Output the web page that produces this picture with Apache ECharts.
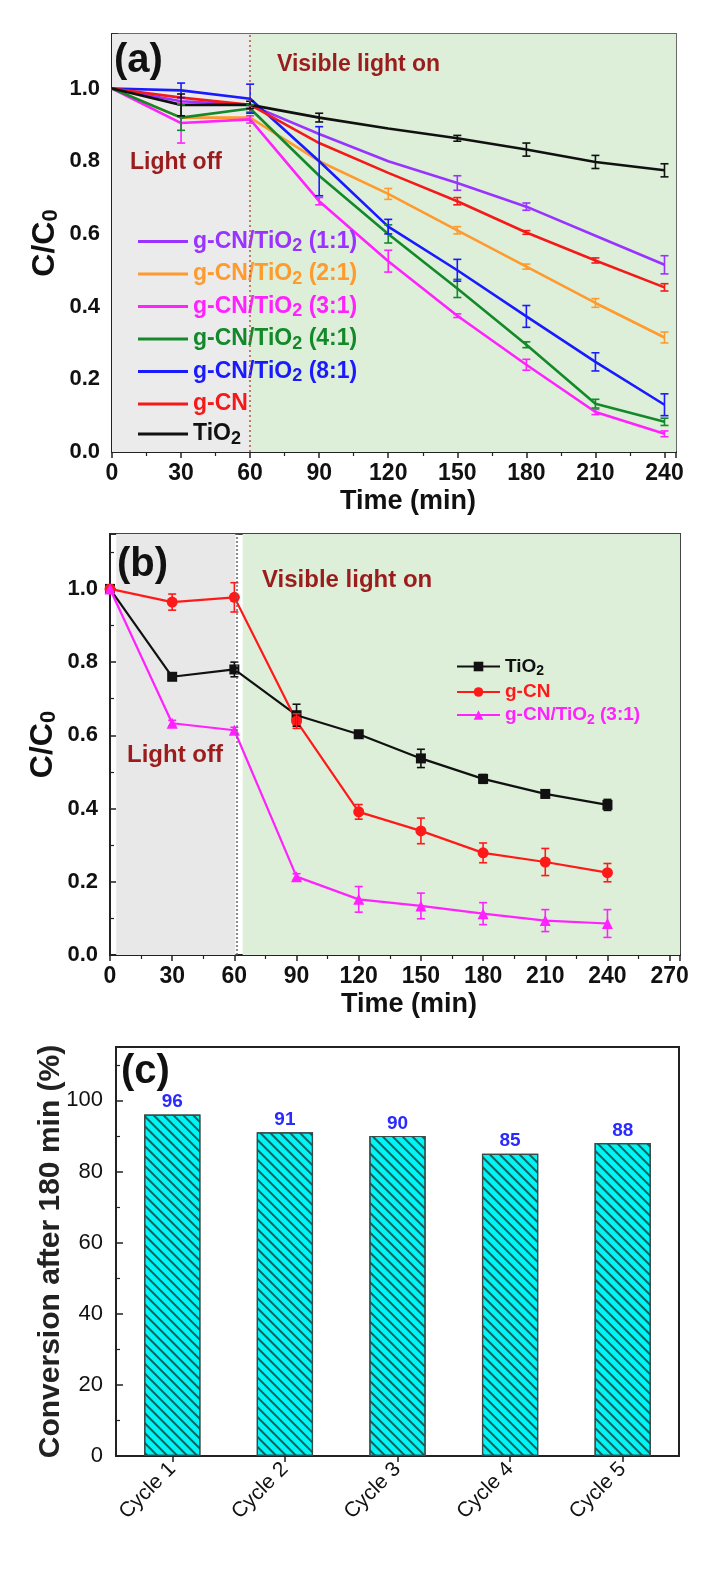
<!DOCTYPE html>
<html><head><meta charset="utf-8">
<script src="https://cdn.jsdelivr.net/npm/echarts@6/dist/echarts.min.js"></script>
<style>html,body{margin:0;padding:0;background:#fff}#c{width:712px;height:1584px}</style>
</head><body><div id="c"></div>
<script>
// ---------- DATA ----------
const timeA = [0, 30, 60, 90, 120, 150, 180, 210, 240];
const a_CT11 = [1.0, 0.965, 0.955, 0.875, 0.800, 0.740, 0.675, 0.595, 0.515];
const a_CT21 = [1.0, 0.920, 0.920, 0.800, 0.710, 0.610, 0.510, 0.410, 0.315];
const a_CT31 = [1.0, 0.905, 0.915, 0.690, 0.525, 0.375, 0.240, 0.110, 0.050];
const a_CT41 = [1.0, 0.920, 0.945, 0.760, 0.600, 0.450, 0.295, 0.133, 0.083];
const a_CT81 = [1.0, 0.995, 0.972, 0.800, 0.620, 0.500, 0.373, 0.248, 0.130];
const a_gCN  = [1.0, 0.975, 0.955, 0.850, 0.768, 0.690, 0.604, 0.527, 0.453];
const a_TiO2 = [1.0, 0.955, 0.955, 0.920, 0.890, 0.863, 0.832, 0.798, 0.775];
const ea_CT11 = [0, 0, 0, 0, 0, 0.020, 0.010, 0, 0.025];
const ea_CT21 = [0, 0, 0, 0, 0.015, 0.010, 0.007, 0.012, 0.015];
const ea_CT31 = [0, 0.055, 0.010, 0.010, 0.030, 0.005, 0.015, 0.007, 0.008];
const ea_CT41 = [0, 0.035, 0.010, 0, 0.025, 0.025, 0.008, 0.012, 0.010];
const ea_CT81 = [0, 0.020, 0.040, 0.095, 0.020, 0.030, 0.030, 0.025, 0.030];
const ea_gCN  = [0, 0, 0, 0, 0, 0.010, 0.005, 0.007, 0.010];
const ea_TiO2 = [0, 0.030, 0.010, 0.012, 0, 0.008, 0.018, 0.018, 0.018];

const timeB = [0, 30, 60, 90, 120, 150, 180, 210, 240];
const b_TiO2 = [1.0, 0.760, 0.780, 0.655, 0.603, 0.537, 0.481, 0.440, 0.410];
const b_gCN  = [1.0, 0.964, 0.977, 0.639, 0.391, 0.339, 0.279, 0.254, 0.225];
const b_CT31 = [1.0, 0.633, 0.614, 0.214, 0.152, 0.134, 0.113, 0.094, 0.086];
const eb_TiO2 = [0, 0.008, 0.020, 0.030, 0.008, 0.025, 0.012, 0.010, 0.015];
const eb_gCN  = [0, 0.022, 0.040, 0.020, 0.020, 0.035, 0.027, 0.037, 0.025];
const eb_CT31 = [0, 0.008, 0.008, 0.008, 0.035, 0.035, 0.030, 0.030, 0.038];

const cycles = ['Cycle 1', 'Cycle 2', 'Cycle 3', 'Cycle 4', 'Cycle 5'];
const conversion = [96, 91, 90, 85, 88];

// ---------- STYLE ----------
const FF = "'Liberation Sans', Arial, sans-serif";
const DARKRED = '#9a1c1c';

const seriesA = [
  {name: 'g-CN/TiO2 (1:1)', v: a_CT11, e: ea_CT11, color: '#9933ff'},
  {name: 'g-CN/TiO2 (2:1)', v: a_CT21, e: ea_CT21, color: '#ff9a2e'},
  {name: 'g-CN/TiO2 (3:1)', v: a_CT31, e: ea_CT31, color: '#ff22ff'},
  {name: 'g-CN/TiO2 (4:1)', v: a_CT41, e: ea_CT41, color: '#13892a'},
  {name: 'g-CN/TiO2 (8:1)', v: a_CT81, e: ea_CT81, color: '#1a1aff'},
  {name: 'g-CN', v: a_gCN, e: ea_gCN, color: '#f51a1a'},
  {name: 'TiO2', v: a_TiO2, e: ea_TiO2, color: '#111111'}
];
const seriesB = [
  {name: 'b: TiO2', v: b_TiO2, e: eb_TiO2, color: '#111111', symbol: 'rect', size: 10},
  {name: 'b: g-CN', v: b_gCN, e: eb_gCN, color: '#ff1a1a', symbol: 'circle', size: 11},
  {name: 'b: g-CN/TiO2 (3:1)', v: b_CT31, e: eb_CT31, color: '#ff22ff', symbol: 'triangle', size: 11}
];

function errRender(params, api) {
  const x = api.value(0), y = api.value(1), e = api.value(2);
  const hi = api.coord([x, y + e]), lo = api.coord([x, y - e]);
  const w = 4, c = api.visual('color');
  const st = {stroke: c, lineWidth: 1.6};
  return {type: 'group', children: [
    {type: 'line', shape: {x1: hi[0], y1: hi[1], x2: lo[0], y2: lo[1]}, style: st},
    {type: 'line', shape: {x1: hi[0] - w, y1: hi[1], x2: hi[0] + w, y2: hi[1]}, style: st},
    {type: 'line', shape: {x1: lo[0] - w, y1: lo[1], x2: lo[0] + w, y2: lo[1]}, style: st}
  ]};
}

const series = [];
// panel a background
series.push({
  type: 'line', xAxisIndex: 0, yAxisIndex: 0, data: [], z: 0, silent: true,
  markArea: {silent: true, data: [
    [{xAxis: 0, itemStyle: {color: '#ebebeb'}}, {xAxis: 60}],
    [{xAxis: 60, itemStyle: {color: '#ddefd9'}}, {xAxis: 245}]
  ]},
  markLine: {silent: true, symbol: 'none', label: {show: false},
    lineStyle: {color: '#b5524a', type: [2, 3], width: 1.5}, data: [{xAxis: 60}]}
});
seriesA.forEach(s => {
  series.push({name: s.name, type: 'line', xAxisIndex: 0, yAxisIndex: 0, z: 3,
    data: timeA.map((t, i) => [t, s.v[i]]), symbol: 'none',
    lineStyle: {color: s.color, width: 2.6}, itemStyle: {color: s.color}});
  series.push({name: s.name, type: 'custom', xAxisIndex: 0, yAxisIndex: 0, z: 4,
    itemStyle: {color: s.color}, renderItem: errRender,
    data: timeA.map((t, i) => [t, s.v[i], s.e[i]]).filter(d => d[2] > 0)});
});
// panel b background
series.push({
  type: 'line', xAxisIndex: 1, yAxisIndex: 1, data: [], z: 0, silent: true,
  markArea: {silent: true, data: [
    [{xAxis: 3, itemStyle: {color: '#e8e8e8'}}, {xAxis: 60.5}],
    [{xAxis: 64, itemStyle: {color: '#ddefd9'}}, {xAxis: 275}]
  ]},
  markLine: {silent: true, symbol: 'none', label: {show: false},
    lineStyle: {color: '#666', type: [2, 2], width: 1.5}, data: [{xAxis: 61}]}
});
seriesB.forEach(s => {
  series.push({name: s.name, type: 'line', xAxisIndex: 1, yAxisIndex: 1, z: 3,
    data: timeB.map((t, i) => [t, s.v[i]]), symbol: s.symbol, symbolSize: s.size,
    lineStyle: {color: s.color, width: 2.2}, itemStyle: {color: s.color}});
  series.push({name: s.name, type: 'custom', xAxisIndex: 1, yAxisIndex: 1, z: 4,
    itemStyle: {color: s.color}, renderItem: errRender,
    data: timeB.map((t, i) => [t, s.v[i], s.e[i]]).filter(d => d[2] > 0)});
});
// panel c
series.push({
  name: 'Conversion', type: 'bar', xAxisIndex: 2, yAxisIndex: 2, data: conversion, barWidth: '50%',
  itemStyle: {color: '#00f5f5', borderColor: '#3a4a4a', borderWidth: 1.2,
    decal: {symbol: 'rect', symbolSize: 1, color: 'rgba(20,70,70,0.85)', dashArrayX: [1, 0], dashArrayY: [1.6, 4.2], rotation: Math.PI / 4}},
  label: {show: true, position: 'top', distance: 3, color: '#2a2aff', fontWeight: 'bold', fontSize: 19, fontFamily: FF}
});

// legends
const legendRich = {};
const allL = seriesA.concat(seriesB);
const idx = {};
allL.forEach((s, i) => {
  idx[s.name] = i;
  const big = s.name.startsWith('b: ') ? 19 : 23;
  legendRich['k' + i] = {color: s.color, fontSize: big, fontWeight: 'bold', fontFamily: FF};
  legendRich['k' + i + 's'] = {color: s.color, fontSize: big - 5, fontWeight: 'bold', fontFamily: FF, padding: [10, 0, 0, 0]};
});
function legendFmt(name) {
  const k = 'k' + idx[name];
  const clean = name.replace(/^b: /, '');
  if (clean.indexOf('TiO2') >= 0) {
    const parts = clean.split('TiO2');
    let s = (parts[0] ? '{' + k + '|' + parts[0] + 'TiO}' : '{' + k + '|TiO}') + '{' + k + 's|2}';
    if (parts[1]) s += '{' + k + '|' + parts[1] + '}';
    return s;
  }
  return '{' + k + '|' + clean + '}';
}

function valAxisY(gi, extra) {
  return Object.assign({
    type: 'value', gridIndex: gi, min: 0, max: 1.15, interval: 0.2,
    axisLine: {show: true, onZero: false, lineStyle: {color: '#222', width: 2}},
    axisTick: {show: true, inside: true, length: 6, lineStyle: {color: '#222', width: 1.5}},
    minorTick: {show: true, splitNumber: 2, length: 4, lineStyle: {color: '#222', width: 1.2}},
    splitLine: {show: false},
    axisLabel: {fontSize: 22, fontWeight: 'bold', color: '#111', fontFamily: FF, margin: 12,
      formatter: v => (v > 1.05 ? '' : v.toFixed(1))},
    name: '{a|C/C}{b|0}', nameLocation: 'middle', nameRotate: 90, nameGap: 50, nameMoveOverlap: false,
    nameTextStyle: {rich: {
      a: {fontSize: 32, fontWeight: 'bold', color: '#111', fontFamily: FF},
      b: {fontSize: 22, fontWeight: 'bold', color: '#111', fontFamily: FF, padding: [12, 0, 0, 0]}
    }}
  }, extra || {});
}
function valAxisX(gi, max, extra) {
  return Object.assign({
    type: 'value', gridIndex: gi, min: 0, max: max, interval: 30,
    axisLine: {show: true, onZero: false, lineStyle: {color: '#222', width: 2}},
    axisTick: {show: true, inside: false, length: 6, lineStyle: {color: '#222', width: 1.5}},
    minorTick: {show: true, splitNumber: 2, length: 4, lineStyle: {color: '#222', width: 1.2}},
    splitLine: {show: false},
    axisLabel: {fontSize: 23, fontWeight: 'bold', color: '#111', fontFamily: FF, margin: 10,
      formatter: v => (v % 30 === 0 ? String(v) : '')},
    name: 'Time (min)', nameLocation: 'middle', nameGap: 36,
    nameTextStyle: {fontSize: 27, fontWeight: 'bold', color: '#111', fontFamily: FF, padding: [0, 0, 0, 28]}
  }, extra || {});
}

const option = {
  animation: false,
  backgroundColor: '#ffffff',
  grid: [
    {left: 112, top: 34, width: 564, height: 418, show: true, borderColor: '#6a6a6a', borderWidth: 2, backgroundColor: 'transparent'},
    {left: 110, top: 534, width: 570, height: 421, show: true, borderColor: '#444', borderWidth: 2, backgroundColor: 'transparent'},
    {left: 116, top: 1047, width: 563, height: 409, show: true, borderColor: '#222', borderWidth: 2, backgroundColor: 'transparent'}
  ],
  xAxis: [
    valAxisX(0, 245),
    valAxisX(1, 275),
    {type: 'category', gridIndex: 2, data: cycles,
      axisLine: {show: true, lineStyle: {color: '#222', width: 2}},
      axisTick: {show: true, alignWithLabel: true, length: 6, lineStyle: {color: '#222', width: 1.5}},
      axisLabel: {rotate: 45, fontSize: 21, color: '#111', fontFamily: FF, margin: 10}}
  ],
  yAxis: [
    valAxisY(0),
    valAxisY(1),
    {type: 'value', gridIndex: 2, min: 0, max: 115, interval: 20,
      axisLine: {show: true, lineStyle: {color: '#222', width: 2}},
      axisTick: {show: true, inside: true, length: 7, lineStyle: {color: '#222', width: 1.5}},
      minorTick: {show: true, splitNumber: 2, length: 4, lineStyle: {color: '#222', width: 1.2}},
      splitLine: {show: false},
      axisLabel: {fontSize: 22, color: '#111', fontFamily: FF, margin: 13, formatter: v => (v > 100 ? '' : String(v))},
      name: 'Conversion after 180 min (%)', nameLocation: 'middle', nameRotate: 90, nameGap: 50, nameMoveOverlap: false,
      nameTextStyle: {fontSize: 30, fontWeight: 'bold', color: '#222', fontFamily: FF}}
  ],
  legend: [
    {data: seriesA.map(s => s.name), orient: 'vertical', left: 133, top: 225, itemWidth: 50, itemHeight: 3,
      icon: 'rect', itemGap: 7, formatter: legendFmt, textStyle: {rich: legendRich}, selectedMode: false},
    {data: seriesB.map(s => s.name), orient: 'vertical', left: 451, top: 652, itemWidth: 43, itemHeight: 12,
      itemGap: 4, formatter: legendFmt, textStyle: {rich: legendRich}, selectedMode: false}
  ],
  graphic: [
    {type: 'text', z: 100, left: 114, top: 41, style: {text: '(a)', font: 'bold 40px ' + FF, fill: '#111'}},
    {type: 'text', z: 100, left: 277, top: 53, style: {text: 'Visible light on', font: 'bold 23px ' + FF, fill: DARKRED}},
    {type: 'text', z: 100, left: 130, top: 151, style: {text: 'Light off', font: 'bold 23px ' + FF, fill: DARKRED}},
    {type: 'text', z: 100, left: 117, top: 545, style: {text: '(b)', font: 'bold 40px ' + FF, fill: '#111'}},
    {type: 'text', z: 100, left: 262, top: 568, style: {text: 'Visible light on', font: 'bold 24px ' + FF, fill: DARKRED}},
    {type: 'text', z: 100, left: 127, top: 743, style: {text: 'Light off', font: 'bold 24px ' + FF, fill: DARKRED}},
    {type: 'text', z: 100, left: 121, top: 1052, style: {text: '(c)', font: 'bold 40px ' + FF, fill: '#111'}}
  ],
  series: series
};
const chart = echarts.init(document.getElementById('c'), null, {renderer: 'canvas'});
chart.setOption(option);
</script></body></html>
